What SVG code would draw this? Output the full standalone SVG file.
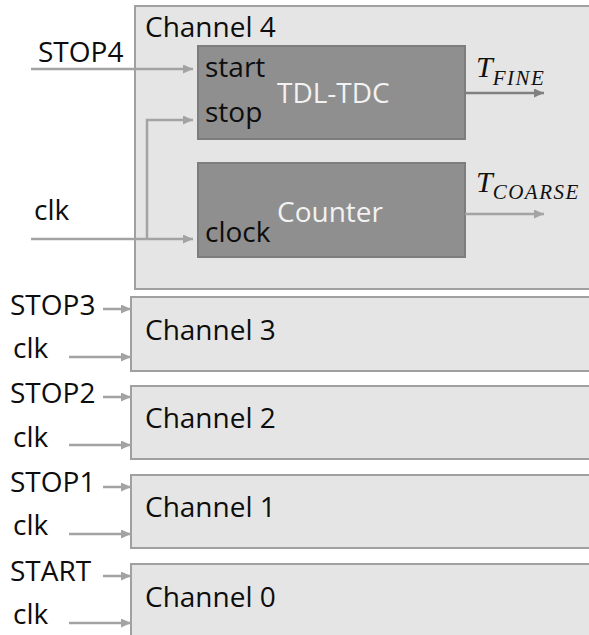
<svg xmlns="http://www.w3.org/2000/svg" width="589" height="635" viewBox="0 0 589 635">
  <style>
    .lbl { font-family: "Open Sans", "Liberation Sans", sans-serif; font-size: 28px; fill: #0d0d0d; }
    .inner { font-family: "Open Sans", "Liberation Sans", sans-serif; font-size: 28px; fill: #f2f2f2; }
    .chan { fill: #e5e5e5; stroke: #a0a0a0; stroke-width: 2; }
    .block { fill: #8f8f8f; stroke: #7d7d7d; stroke-width: 2; }
    .wire { fill: none; stroke: #a3a3a3; stroke-width: 2.5; }
    .wire-dark { fill: none; stroke: #808080; stroke-width: 2.5; }
    .math { font-family: "Liberation Serif", "DejaVu Serif", serif; font-style: italic; fill: #111111; }
    .sub { font-size: 21px; letter-spacing: 1.5px; }
  </style>
  <defs>
    <marker id="arr" markerUnits="userSpaceOnUse" markerWidth="11" markerHeight="10" refX="10" refY="4.5" orient="auto">
      <path d="M0,0 L10,4.5 L0,9 z" fill="#a3a3a3"/>
    </marker>
    <marker id="arr-dark" markerUnits="userSpaceOnUse" markerWidth="11" markerHeight="10" refX="10" refY="4.5" orient="auto">
      <path d="M0,0 L10,4.5 L0,9 z" fill="#808080"/>
    </marker>
  </defs>

  <rect width="589" height="635" fill="#ffffff"/>

  <!-- Channel 4, expanded -->
  <g id="channel4">
    <rect class="chan" x="135" y="6" width="460" height="283"/>
    <text class="lbl" x="145" y="37">Channel 4</text>
  </g>
  <g id="tdl-tdc">
    <rect class="block" x="198" y="46" width="267" height="93"/>
    <text class="lbl" x="205" y="77">start</text>
    <text class="lbl" x="205" y="122">stop</text>
    <text class="inner" x="277" y="103">TDL-TDC</text>
  </g>
  <g id="counter">
    <rect class="block" x="198" y="163" width="267" height="94"/>
    <text class="lbl" x="205" y="242">clock</text>
    <text class="inner" x="277" y="222">Counter</text>
  </g>

  <!-- Collapsed channels -->
  <g id="channel3">
    <rect class="chan" x="131" y="297" width="470" height="74"/>
    <text class="lbl" x="145" y="340">Channel 3</text>
  </g>
  <g id="channel2">
    <rect class="chan" x="131" y="386" width="470" height="73"/>
    <text class="lbl" x="145" y="428">Channel 2</text>
  </g>
  <g id="channel1">
    <rect class="chan" x="131" y="475" width="470" height="73"/>
    <text class="lbl" x="145" y="517">Channel 1</text>
  </g>
  <g id="channel0">
    <rect class="chan" x="131" y="564" width="470" height="80"/>
    <text class="lbl" x="145" y="607">Channel 0</text>
  </g>

  <!-- Signal labels -->
  <g id="inputs">
    <text class="lbl" x="38" y="62">STOP4</text>
    <text class="lbl" x="34" y="220">clk</text>
    <text class="lbl" x="10" y="315">STOP3</text>
    <text class="lbl" x="13" y="358">clk</text>
    <text class="lbl" x="10" y="403">STOP2</text>
    <text class="lbl" x="13" y="447">clk</text>
    <text class="lbl" x="10" y="492">STOP1</text>
    <text class="lbl" x="13" y="535">clk</text>
    <text class="lbl" x="10" y="581">START</text>
    <text class="lbl" x="13" y="624">clk</text>
  </g>
  <g id="outputs">
    <text class="math" x="476" y="77" font-size="30">T<tspan class="sub" dy="8">FINE</tspan></text>
    <text class="math" x="476" y="192" font-size="30">T<tspan class="sub" dy="7">COARSE</tspan></text>
  </g>

  <!-- Connectors -->
  <g id="connectors">
    <line class="wire" x1="31" y1="69" x2="193" y2="69" marker-end="url(#arr)"/>
    <line class="wire" x1="31" y1="239" x2="193" y2="239" marker-end="url(#arr)"/>
    <polyline class="wire" points="147,239 147,120 193,120" marker-end="url(#arr)"/>
    <line class="wire-dark" x1="465" y1="93" x2="544" y2="93" marker-end="url(#arr-dark)"/>
    <line class="wire" x1="465" y1="214" x2="544" y2="214" marker-end="url(#arr)"/>

    <line class="wire" x1="103" y1="309" x2="131" y2="309" marker-end="url(#arr)"/>
    <line class="wire" x1="69" y1="357" x2="131" y2="357" marker-end="url(#arr)"/>
    <line class="wire" x1="103" y1="397" x2="131" y2="397" marker-end="url(#arr)"/>
    <line class="wire" x1="69" y1="445" x2="131" y2="445" marker-end="url(#arr)"/>
    <line class="wire" x1="103" y1="487" x2="131" y2="487" marker-end="url(#arr)"/>
    <line class="wire" x1="69" y1="534" x2="131" y2="534" marker-end="url(#arr)"/>
    <line class="wire" x1="103" y1="576" x2="131" y2="576" marker-end="url(#arr)"/>
    <line class="wire" x1="69" y1="623" x2="131" y2="623" marker-end="url(#arr)"/>
  </g>
</svg>
